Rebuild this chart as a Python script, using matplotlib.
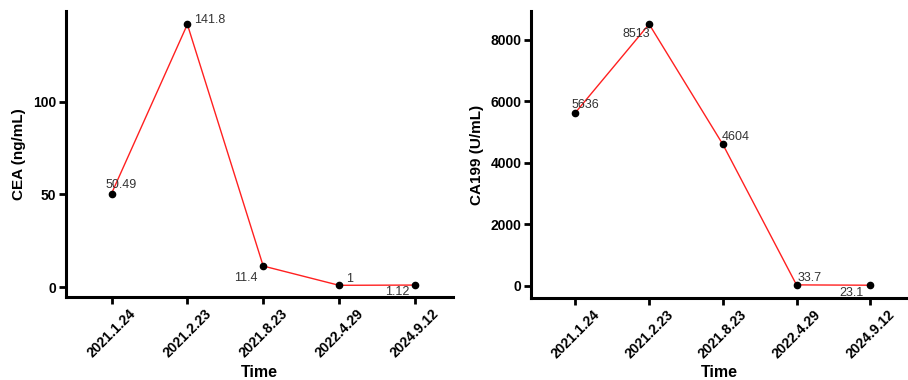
import matplotlib
matplotlib.use("Agg")
import matplotlib.pyplot as plt

plt.rcParams['font.family'] = ['Liberation Sans', 'DejaVu Sans']

dates = ["2021.1.24", "2021.2.23", "2021.8.23", "2022.4.29", "2024.9.12"]
cea = [50.49, 141.8, 11.4, 1, 1.12]
cea_labels = ["50.49", "141.8", "11.4", "1", "1.12"]
ca199 = [5636, 8513, 4604, 33.7, 23.1]
ca199_labels = ["5636", "8513", "4604", "33.7", "23.1"]

# label offsets (points) for the value annotations
cea_off = [(-4, 2, "left", "bottom"), (5, -1, "left", "bottom"), (-4, -4, "right", "top"),
           (5, 0, "left", "bottom"), (-4, -1, "right", "top")]
ca_off = [(-3, 1, "left", "bottom"), (1, -3, "right", "top"), (-1, 1, "left", "bottom"),
          (1, 1, "left", "bottom"), (-5, -1, "right", "top")]

fig = plt.figure(figsize=(9.08, 3.8), dpi=100)
ax1 = fig.add_axes([0.0727, 0.218, 0.426, 0.753])
ax2 = fig.add_axes([0.585, 0.216, 0.414, 0.755])


def draw(ax, vals, labels, offs, ylabel, ylim, yticks):
    x = list(range(len(vals)))
    ax.plot(x, vals, color="#ff2020", lw=1, zorder=2)
    ax.plot(x, vals, "o", color="black", ms=4.5, zorder=3)
    for xi, v, t, (dx, dy, ha, va) in zip(x, vals, labels, offs):
        ax.annotate(t, (xi, v), xytext=(dx, dy), textcoords="offset points",
                    ha=ha, va=va, fontsize=9, color="#333333")
    ax.set_xlim(-0.6, 4.5)
    ax.set_ylim(*ylim)
    ax.set_yticks(yticks)
    ax.set_xticks(x)
    ax.set_xticklabels(dates, rotation=45, ha="center", va="top",
                       fontweight="bold", fontsize=10)
    for lab in ax.get_yticklabels():
        lab.set_fontweight("bold")
        lab.set_fontsize(10)
    ax.spines["top"].set_visible(False)
    ax.spines["right"].set_visible(False)
    ax.spines["left"].set_linewidth(2.2)
    ax.spines["bottom"].set_linewidth(2.2)
    ax.tick_params(width=2, length=5, pad=2)
    ax.set_ylabel(ylabel, fontweight="bold", fontsize=11, labelpad=5)
    ax.set_xlabel("Time", fontweight="bold", fontsize=11.5, labelpad=3)


draw(ax1, cea, cea_labels, cea_off, "CEA (ng/mL)", (-5.4, 149), [0, 50, 100])
draw(ax2, ca199, ca199_labels, ca_off, "CA199 (U/mL)", (-390, 8940), [0, 2000, 4000, 6000, 8000])

fig.savefig("out.png", dpi=100)
